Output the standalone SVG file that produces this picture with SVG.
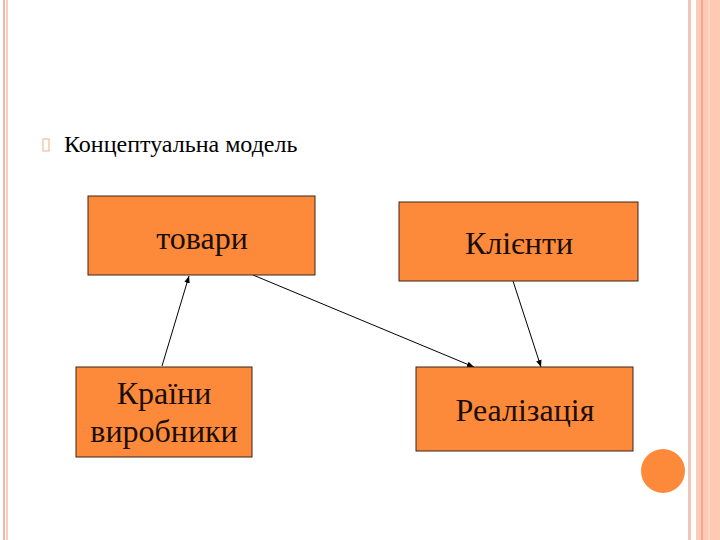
<svg xmlns="http://www.w3.org/2000/svg" width="720" height="540" viewBox="0 0 720 540">
<defs>
<style>
.box{fill:#fd8a3a;stroke:#3a2418;stroke-width:1}
.lbl{font-family:"Liberation Serif","DejaVu Serif",serif;font-size:32px;fill:#1a0e06;text-anchor:middle}
.conn{stroke:#000;stroke-width:1;fill:none;marker-end:url(#ah)}
</style>
<marker id="ah" viewBox="0 0 10 10" refX="10" refY="5" markerWidth="7" markerHeight="7" orient="auto" markerUnits="userSpaceOnUse">
<path d="M0,1 L10,5 L0,9 z" fill="#000"/>
</marker>
</defs>
<rect width="720" height="540" fill="#fff"/>
<g id="frame">
<rect x="3" y="0" width="2" height="540" fill="#f6b8a6"/>
<rect x="6" y="0" width="2" height="540" fill="#f8cfc2"/>
<rect x="688" y="0" width="3" height="540" fill="#f3c6b8"/>
<rect x="696" y="0" width="24" height="540" fill="#ffcab4"/>
<rect x="701" y="0" width="2" height="540" fill="#f2a88e"/>
<rect x="708" y="0" width="2" height="540" fill="#ffd8c8"/>
</g>
<g id="title">
<rect x="43" y="139" width="6" height="12" fill="none" stroke="#e0a070" stroke-width="0.8"/>
<text x="64" y="152" font-family="'Liberation Serif','DejaVu Serif',serif" font-size="24" fill="#000">Концептуальна модель</text>
</g>
<g id="connectors">
<line class="conn" x1="162" y1="366" x2="189" y2="276"/>
<line class="conn" x1="253" y1="275" x2="474" y2="367"/>
<line class="conn" x1="513" y1="281" x2="541" y2="367"/>
</g>
<g id="tovary">
<rect class="box" x="88" y="196" width="227" height="79"/>
<text class="lbl" x="202" y="249">товари</text>
</g>
<g id="klienty">
<rect class="box" x="399" y="202" width="239" height="79"/>
<text class="lbl" x="519" y="254">Клієнти</text>
</g>
<g id="krainy">
<rect class="box" x="76" y="367" width="176" height="90"/>
<text class="lbl" x="164" y="404">Країни</text>
<text class="lbl" x="164" y="442">виробники</text>
</g>
<g id="realizatsiia">
<rect class="box" x="416" y="367" width="217" height="84"/>
<text class="lbl" x="525" y="421">Реалізація</text>
</g>
<g id="dot">
<circle cx="663" cy="471" r="22" fill="#fd8a3a"/>
</g>
</svg>
